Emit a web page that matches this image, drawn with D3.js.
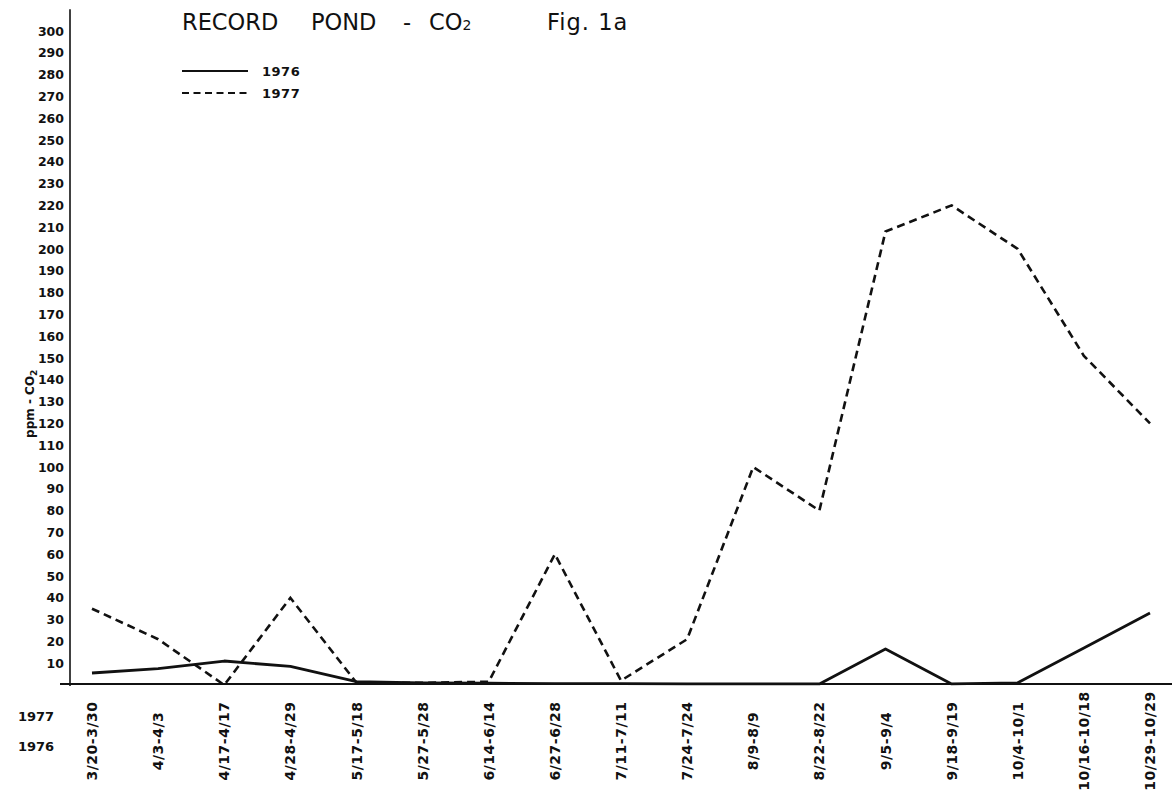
<!DOCTYPE html>
<html>
<head>
<meta charset="utf-8">
<script src="https://cdn.jsdelivr.net/npm/d3@7"></script>
<style>
  html, body { margin: 0; padding: 0; background: #fff; }
  svg { display: block; }
  text { fill: #111; }
</style>
</head>
<body>
<svg id="chart" width="1175" height="794"></svg>
<script>
// Sampling periods (1976 date - 1977 date)
const periods = [
  "3/20-3/30", "4/3-4/3", "4/17-4/17", "4/28-4/29", "5/17-5/18",
  "5/27-5/28", "6/14-6/14", "6/27-6/28", "7/11-7/11", "7/24-7/24",
  "8/9-8/9", "8/22-8/22", "9/5-9/4", "9/18-9/19", "10/4-10/1",
  "10/16-10/18", "10/29-10/29"
];

// CO2 concentration, ppm
const co2_1976 = [5.5, 7.5, 11, 8.5, 1.5, 1, 0.8, 0.6, 0.6, 0.5, 0.5, 0.5, 16.5, 0.5, 1, 17, 33];
const co2_1977 = [35, 21, 0, 40, 1, 1, 1.5, 60, 2, 21, 100, 80, 208, 220, 200, 151, 120];

// Y tick labels
const yTicks = d3.range(10, 301, 10);

const svg = d3.select("#chart");
const font = "'DejaVu Sans', 'Liberation Sans', sans-serif";

const x = d3.scalePoint().domain(periods).range([92, 1150]);
const y = d3.scaleLinear().domain([0, 300]).range([685, 31]);

const axisX = 70;

// Y axis line
svg.append("line")
  .attr("x1", axisX).attr("x2", axisX)
  .attr("y1", y(310)).attr("y2", y(0) + 1)
  .attr("stroke", "#111").attr("stroke-width", 1.6);

// X axis line
svg.append("line")
  .attr("x1", axisX - 10).attr("x2", 1172)
  .attr("y1", y(0) - 1).attr("y2", y(0) - 1)
  .attr("stroke", "#111").attr("stroke-width", 2);

// Y tick labels
const yAxis = d3.axisLeft(y).tickValues(yTicks).tickSize(0).tickPadding(6);
const gy = svg.append("g").attr("transform", `translate(${axisX},0)`).call(yAxis);
gy.select(".domain").remove();
gy.selectAll("text")
  .attr("font-family", font)
  .attr("font-weight", "bold")
  .attr("font-size", 12.5)
  .attr("fill", "#111");

// Y axis title
const yTitle = svg.append("text")
  .attr("transform", `translate(34,${y(129)}) rotate(-90)`)
  .attr("text-anchor", "middle")
  .attr("font-family", font)
  .attr("font-weight", "bold")
  .attr("font-size", 12);
yTitle.append("tspan").text("ppm - CO");
yTitle.append("tspan").attr("font-size", 9).attr("dy", 3).text("2");

// X category labels, rotated
svg.append("g").selectAll("text")
  .data(periods)
  .join("text")
  .attr("transform", d => `translate(${x(d)},741) rotate(-90)`)
  .attr("dy", "0.36em")
  .attr("text-anchor", "middle")
  .attr("font-family", font)
  .attr("font-weight", "bold")
  .attr("font-size", 14)
  .attr("letter-spacing", 0.5)
  .text(d => d);

// Row labels for the two date rows
const rowLabels = [["1977", 721], ["1976", 751]];
svg.append("g").selectAll("text")
  .data(rowLabels)
  .join("text")
  .attr("x", 36).attr("y", d => d[1])
  .attr("text-anchor", "middle")
  .attr("font-family", font)
  .attr("font-weight", "bold")
  .attr("font-size", 13)
  .text(d => d[0]);

// Series lines
const line = d3.line()
  .x((d, i) => x(periods[i]))
  .y(d => y(d));

svg.append("path")
  .datum(co2_1977)
  .attr("d", line)
  .attr("fill", "none")
  .attr("stroke", "#111")
  .attr("stroke-width", 2.6)
  .attr("stroke-dasharray", "8,5")
  .attr("stroke-linejoin", "miter");

svg.append("path")
  .datum(co2_1976)
  .attr("d", line)
  .attr("fill", "none")
  .attr("stroke", "#111")
  .attr("stroke-width", 2.8)
  .attr("stroke-linejoin", "round");

// Title
const titleG = svg.append("g")
  .attr("font-family", font)
  .attr("font-size", 22.5)
  .attr("fill", "#111");
titleG.append("text").attr("x", 182).attr("y", 30).text("RECORD");
titleG.append("text").attr("x", 311).attr("y", 30).text("POND");
titleG.append("text").attr("x", 403).attr("y", 30).text("-");
const co = titleG.append("text").attr("x", 429).attr("y", 30);
co.append("tspan").text("CO");
co.append("tspan").attr("font-size", 14).text("2");
titleG.append("text").attr("x", 547).attr("y", 30).attr("letter-spacing", 1).text("Fig. 1a");

// Legend
const legend = [
  { label: "1976", dash: null },
  { label: "1977", dash: "7,4.5" }
];
const lg = svg.append("g").selectAll("g")
  .data(legend)
  .join("g")
  .attr("transform", (d, i) => `translate(182,${71 + i * 22})`);
lg.append("line")
  .attr("x1", 0).attr("x2", 66)
  .attr("stroke", "#111")
  .attr("stroke-width", 2)
  .attr("stroke-dasharray", d => d.dash);
lg.append("text")
  .attr("x", 80).attr("y", 5)
  .attr("font-family", font)
  .attr("font-weight", "bold")
  .attr("font-size", 13)
  .attr("letter-spacing", 0.5)
  .text(d => d.label);
</script>
</body>
</html>
